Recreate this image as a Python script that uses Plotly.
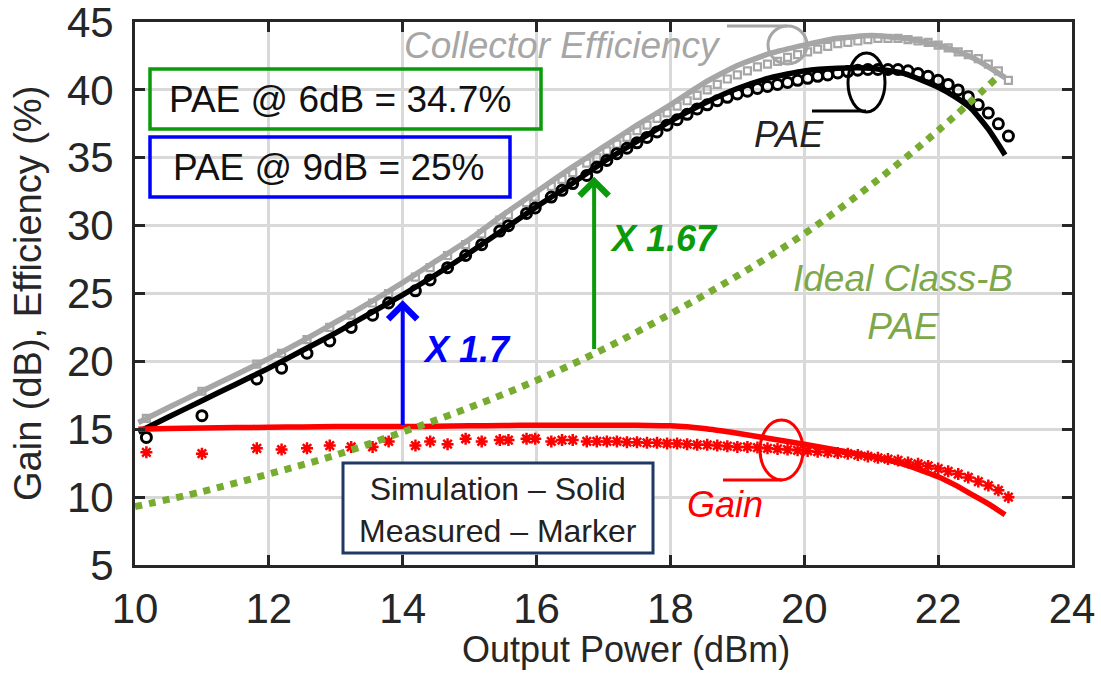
import plotly.graph_objects as go

# ---------------- data ----------------
sim_pout = [10.05, 10.5, 11, 11.5, 12, 12.5, 13, 13.5, 14, 14.5, 15, 15.5, 16, 16.5,
            17, 17.5, 18, 18.5, 19, 19.5, 20, 20.5, 21, 21.5, 22, 22.25, 22.5, 22.75, 23]
sim_ce = [15.5, 16.6, 17.8, 19.0, 20.2, 21.5, 22.9, 24.3, 25.8, 27.4, 29.0, 30.8, 32.5, 34.2,
          35.8, 37.4, 38.9, 40.5, 41.8, 42.7, 43.3, 43.8, 44.0, 43.8, 43.3, 42.9, 42.4, 41.7, 40.9]
sim_pae = [14.8, 15.9, 17.1, 18.3, 19.5, 20.8, 22.1, 23.5, 24.9, 26.4, 28.0, 29.7, 31.4, 33.0,
           34.7, 36.2, 37.7, 39.0, 40.1, 40.9, 41.4, 41.6, 41.6, 41.2, 40.2, 39.5, 38.6, 37.1, 35.2]
sim_gain = [15.0, 15.05, 15.1, 15.12, 15.15, 15.17, 15.2, 15.2, 15.2, 15.22, 15.25, 15.27, 15.3, 15.3,
            15.3, 15.3, 15.25, 15.05, 14.7, 14.3, 13.9, 13.45, 13.0, 12.4, 11.5, 10.9, 10.2, 9.5, 8.7]

meas_pout = [10.17, 11.0, 11.82, 12.19, 12.57, 12.91, 13.23, 13.55, 13.79, 14.19, 14.41,
             14.67, 14.94, 15.18, 15.45, 15.58, 15.85, 15.98, 16.22, 16.38, 16.54, 16.75,
             16.9, 17.05, 17.2, 17.35, 17.5, 17.65, 17.8, 17.95, 18.1, 18.25, 18.4, 18.55,
             18.7, 18.85, 19.0, 19.15, 19.3, 19.45, 19.6, 19.75, 19.9, 20.05, 20.2, 20.35,
             20.5, 20.65, 20.8, 20.95, 21.1, 21.25, 21.4, 21.55, 21.7, 21.85, 22.0, 22.15,
             22.3, 22.45, 22.6, 22.75, 22.9, 23.05]
meas_pae = [14.4, 16.0, 18.7, 19.5, 20.6, 21.5, 22.5, 23.4, 24.3, 25.2, 26.0,
            26.9, 27.8, 28.6, 29.6, 30.0, 30.9, 31.3, 32.1, 32.6, 33.1, 33.7,
            34.3, 34.8, 35.3, 35.7, 36.1, 36.5, 36.9, 37.4, 37.8, 38.2, 38.6, 38.9,
            39.2, 39.45, 39.7, 39.9, 40.1, 40.25, 40.4, 40.55, 40.7, 40.85, 41.0, 41.1,
            41.25, 41.35, 41.45, 41.5, 41.5, 41.5, 41.5, 41.4, 41.2, 41.0, 40.7, 40.4,
            40.0, 39.5, 38.9, 38.3, 37.5, 36.6]
meas_ce = [15.8, 17.8, 19.8, 20.6, 21.6, 22.5, 23.4, 24.3, 25.0, 26.2, 26.9,
           27.8, 28.6, 29.4, 30.4, 30.8, 31.7, 32.1, 32.9, 33.4, 33.9, 34.6,
           35.0, 35.5, 36.0, 36.5, 37.0, 37.4, 37.9, 38.3, 38.8, 39.2, 39.6, 40.0,
           40.4, 40.8, 41.1, 41.4, 41.7, 41.9, 42.1, 42.4, 42.6, 42.8, 43.0, 43.2,
           43.4, 43.5, 43.6, 43.7, 43.8, 43.8, 43.8, 43.7, 43.6, 43.5, 43.3, 43.1,
           42.8, 42.6, 42.3, 41.9, 41.4, 40.7]
meas_gain = [13.3, 13.2, 13.6, 13.5, 13.6, 13.8, 13.7, 13.7, 14.1, 13.8, 14.1,
             13.9, 14.3, 14.1, 14.2, 14.2, 14.3, 14.3, 14.1, 14.2, 14.2, 14.1,
             14.1, 14.1, 14.1, 14.05, 14.05, 14.0, 14.0, 13.95, 13.95, 13.9, 13.85, 13.85,
             13.8, 13.75, 13.7, 13.7, 13.65, 13.6, 13.55, 13.5, 13.45, 13.4, 13.35, 13.3,
             13.25, 13.2, 13.1, 13.0, 12.9, 12.8, 12.7, 12.55, 12.45, 12.3, 12.1, 11.9,
             11.7, 11.45, 11.15, 10.85, 10.5, 10.0]

ideal_pout = [10, 11, 12, 13, 14, 15, 16, 17, 18, 19, 20, 21, 22, 22.9]
ideal_pae = [9.3, 10.4, 11.7, 13.1, 14.8, 16.6, 18.6, 20.9, 23.5, 26.3, 29.4, 33.0, 37.0, 41.0]

x_ticks = [10, 12, 14, 16, 18, 20, 22, 24]
y_ticks = [5, 10, 15, 20, 25, 30, 35, 40, 45]

# ---------------- styling ----------------
FONT = "Liberation Sans, Arial, sans-serif"
AXC = "#262626"
GRAY = "#a6a6a6"
RED = "#ff0000"
IDEAL = "#77ac30"
IDEAL_TXT = "#7da84a"
DGREEN = "#0a9a0a"
BLUE = "#0000ff"
NAVY = "#1f3864"

L, R, T, B = 135, 29, 22, 110
W, H = 1101, 675
PW, PH = W - L - R, H - T - B


def X(px):
    return 10 + (px - L) / PW * 14


def Y(py):
    return 45 - (py - T) / PH * 40


fig = go.Figure()
fig.add_trace(go.Scatter(x=sim_pout, y=sim_ce, mode="lines",
                         line=dict(color=GRAY, width=5.5, shape="spline", smoothing=0.5)))
fig.add_trace(go.Scatter(x=meas_pout, y=meas_ce, mode="markers",
                         marker=dict(symbol="square-open", size=7, color=GRAY,
                                     line=dict(width=2.2, color=GRAY))))
fig.add_trace(go.Scatter(x=sim_pout, y=sim_pae, mode="lines",
                         line=dict(color="black", width=5.5, shape="spline", smoothing=0.5)))
fig.add_trace(go.Scatter(x=meas_pout, y=meas_pae, mode="markers",
                         marker=dict(symbol="circle-open", size=10, color="black",
                                     line=dict(width=3, color="black"))))
fig.add_trace(go.Scatter(x=sim_pout, y=sim_gain, mode="lines",
                         line=dict(color=RED, width=5.5, shape="spline", smoothing=0.5)))
fig.add_trace(go.Scatter(x=meas_pout, y=meas_gain, mode="markers",
                         marker=dict(symbol="asterisk-open", size=10, color=RED,
                                     line=dict(width=2.5, color=RED))))
fig.add_trace(go.Scatter(x=ideal_pout, y=ideal_pae, mode="lines",
                         line=dict(color=IDEAL, width=7, dash="dot", shape="spline")))

axis_common = dict(
    showline=True, linecolor=AXC, linewidth=3, mirror="ticks",
    ticks="inside", ticklen=10, tickwidth=3, tickcolor=AXC,
    showgrid=True, gridcolor="#d9d9d9", gridwidth=2.5, zeroline=False,
    tickfont=dict(family=FONT, size=42, color=AXC),
    ticklabeloverflow="allow", automargin=False,
)
fig.update_xaxes(range=[10, 24], tickvals=x_ticks, ticktext=[str(v) for v in x_ticks],
                 ticklabelstandoff=5, **axis_common)
fig.update_yaxes(range=[5, 45], tickvals=y_ticks, ticktext=[str(v) for v in y_ticks],
                 ticklabelstandoff=10, **axis_common)

shapes = []
# leader ellipses + lines
shapes.append(dict(type="circle", xref="x", yref="y", x0=X(768), x1=X(807), y0=Y(64), y1=Y(26),
                   line=dict(color=GRAY, width=3)))
shapes.append(dict(type="line", xref="x", yref="y", x0=X(727), x1=X(787), y0=Y(26), y1=Y(26),
                   line=dict(color=GRAY, width=3)))
shapes.append(dict(type="circle", xref="x", yref="y", x0=X(848), x1=X(885), y0=Y(112), y1=Y(53),
                   line=dict(color="black", width=3)))
shapes.append(dict(type="line", xref="x", yref="y", x0=X(812), x1=X(866), y0=Y(111), y1=Y(111),
                   line=dict(color="black", width=3)))
shapes.append(dict(type="circle", xref="x", yref="y", x0=X(760), x1=X(803), y0=Y(480), y1=Y(420),
                   line=dict(color=RED, width=3)))
shapes.append(dict(type="line", xref="x", yref="y", x0=X(723), x1=X(782), y0=Y(480), y1=Y(480),
                   line=dict(color=RED, width=3)))
# text boxes
shapes.append(dict(type="rect", xref="x", yref="y", x0=X(150), x1=X(541), y0=Y(129), y1=Y(69),
                   line=dict(color=DGREEN, width=3.5), fillcolor="rgba(255,255,255,0)"))
shapes.append(dict(type="rect", xref="x", yref="y", x0=X(150), x1=X(510), y0=Y(197), y1=Y(137),
                   line=dict(color=BLUE, width=3.5), fillcolor="rgba(255,255,255,0)"))
shapes.append(dict(type="rect", xref="x", yref="y", x0=X(343), x1=X(653), y0=Y(553), y1=Y(463),
                   line=dict(color=NAVY, width=3), fillcolor="white"))
fig.update_layout(shapes=[dict(s, layer="above") for s in shapes])

ann = []


def text(px, py, s, size, color, italic=False, bold=False, align="center"):
    ann.append(dict(x=X(px), y=Y(py), xref="x", yref="y", text=s, showarrow=False,
                    xanchor="center", yanchor="middle", align=align,
                    font=dict(family=FONT, size=size, color=color,
                              style="italic" if italic else "normal",
                              weight="bold" if bold else "normal")))


text(340, 99, "PAE @ 6dB = 34.7%", 37, "#111111")
text(328, 167, "PAE @ 9dB = 25%", 37, "#111111")
text(498, 510, "Simulation – Solid<br>Measured – Marker", 32, "#222222")
text(562, 45, "Collector Efficiency", 37, GRAY, italic=True)
text(789, 134, "PAE", 36, "#222222", italic=True)
text(725, 504, "Gain", 36, RED, italic=True)
text(903, 302, "Ideal Class-B<br>PAE", 37, IDEAL_TXT, italic=True)
text(467, 349, "X 1.7", 36, BLUE, italic=True, bold=True)
text(664, 238, "X 1.67", 36, DGREEN, italic=True, bold=True)

# arrows
ann.append(dict(x=14, y=24.5, ax=14, ay=15.2, xref="x", yref="y", axref="x", ayref="y",
                text="", showarrow=True, arrowhead=4, arrowsize=1.4, arrowwidth=4, arrowcolor=BLUE))
ann.append(dict(x=16.86, y=33.6, ax=16.86, ay=20.8, xref="x", yref="y", axref="x", ayref="y",
                text="", showarrow=True, arrowhead=4, arrowsize=1.4, arrowwidth=4, arrowcolor=DGREEN))

# axis titles
ann.append(dict(x=(626 - L) / PW, y=(H - B - 649) / PH, xref="paper", yref="paper",
                text="Output Power (dBm)", showarrow=False, xanchor="center", yanchor="middle",
                font=dict(family=FONT, size=36, color=AXC)))
ann.append(dict(x=(28 - L) / PW, y=(H - B - 294) / PH, xref="paper", yref="paper",
                text="Gain (dB), Efficiency (%)", showarrow=False, xanchor="center",
                yanchor="middle", textangle=-90,
                font=dict(family=FONT, size=38, color=AXC)))

fig.update_layout(
    annotations=ann,
    width=W, height=H,
    margin=dict(l=L, r=R, t=T, b=B, pad=0, autoexpand=False),
    paper_bgcolor="white", plot_bgcolor="white",
    showlegend=False,
)

fig.write_html("out.html")
